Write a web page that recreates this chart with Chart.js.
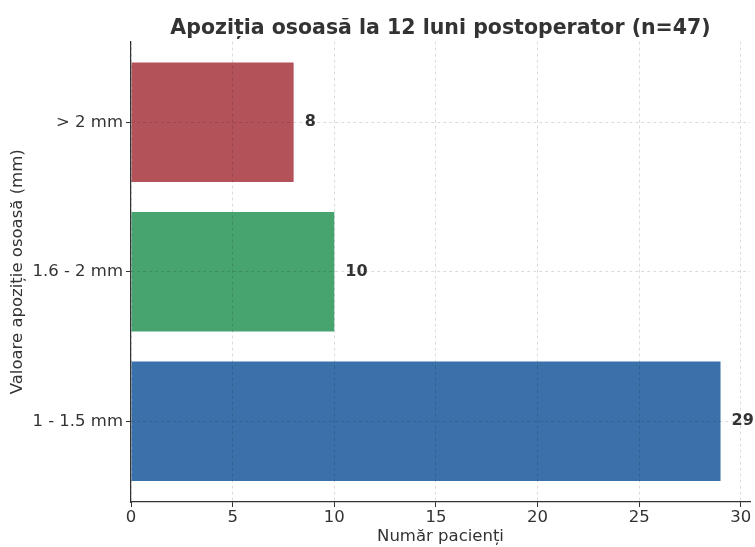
<!DOCTYPE html>
<html>
<head>
<meta charset="utf-8">
<script src="https://cdn.jsdelivr.net/npm/chart.js@4"></script>
<style>
  html, body { margin: 0; padding: 0; background: #fff; }
  #wrap { width: 755px; height: 547px; }
</style>
</head>
<body>
<div id="wrap"><canvas id="c" width="755" height="547"></canvas></div>
<script>
// Bone apposition groups, bottom to top
const categories = ['1 - 1.5 mm', '1.6 - 2 mm', '> 2 mm'];
const patients = [29, 10, 8];
const barColors = ['#3b71ab', '#48a46f', '#b4525a'];
const xTicks = [0, 5, 10, 15, 20, 25, 30];

const FONT = "'DejaVu Sans', sans-serif";
const TEXT = '#333333';

// Writes each bar's count just past its end
const valueLabels = {
  id: 'valueLabels',
  afterDatasetsDraw(chart) {
    const ctx = chart.ctx;
    const meta = chart.getDatasetMeta(0);
    ctx.save();
    ctx.font = 'bold 16px ' + FONT;
    ctx.fillStyle = TEXT;
    ctx.textAlign = 'left';
    ctx.textBaseline = 'middle';
    meta.data.forEach((bar, i) => {
      ctx.fillText(String(patients[i]), bar.x + 11, bar.y);
    });
    ctx.restore();
  }
};

const gridOpts = { z: 1, offset: false, color: 'rgba(0,0,0,0.14)', tickColor: TEXT, tickLength: 5, tickBorderDash: [] };
const borderOpts = { z: 1, display: true, color: '#333', width: 1.2, dash: [3, 3] };

new Chart(document.getElementById('c'), {
  type: 'bar',
  data: {
    datasets: [{
      data: patients.map((v, i) => ({ x: v, y: i })),
      backgroundColor: barColors,
      borderWidth: 0,
      barPercentage: 0.8,
      categoryPercentage: 1.0
    }]
  },
  options: {
    indexAxis: 'y',
    responsive: false,
    animation: false,
    layout: { padding: { left: 0, right: 5, top: 0, bottom: 0 } },
    plugins: {
      legend: { display: false },
      tooltip: { enabled: false },
      title: {
        display: true,
        fullSize: false,
        text: 'Apoziția osoasă la 12 luni postoperator (n=47)',
        color: TEXT,
        font: { family: FONT, size: 20.5, weight: 'bold' },
        padding: { top: 16, bottom: 1 }
      }
    },
    scales: {
      x: {
        type: 'linear',
        offset: false,
        min: 0,
        max: 30.45,
        afterBuildTicks: s => { s.ticks = xTicks.map(v => ({ value: v })); },
        afterFit: s => { s.height = 45; },
        ticks: { z: 1, color: TEXT, font: { family: FONT, size: 16.5 }, padding: 1, maxRotation: 0 },
        grid: gridOpts,
        border: borderOpts,
        title: { display: true, text: 'Număr pacienți', color: TEXT, font: { family: FONT, size: 16.5 }, padding: { top: 0, bottom: 0 } }
      },
      y: {
        type: 'linear',
        offset: false,
        min: -0.54,
        max: 2.54,
        afterBuildTicks: s => { s.ticks = categories.map((c, i) => ({ value: i })); },
        afterFit: s => { s.width = 131; },
        ticks: {
          z: 1,
          color: TEXT,
          font: { family: FONT, size: 16.5 },
          padding: 3,
          callback: v => categories[v]
        },
        grid: gridOpts,
        border: borderOpts,
        title: { display: true, text: 'Valoare apoziție osoasă (mm)', color: TEXT, font: { family: FONT, size: 16.5 }, padding: { top: 8, bottom: 0 } }
      }
    }
  },
  plugins: [valueLabels]
});
</script>
</body>
</html>
